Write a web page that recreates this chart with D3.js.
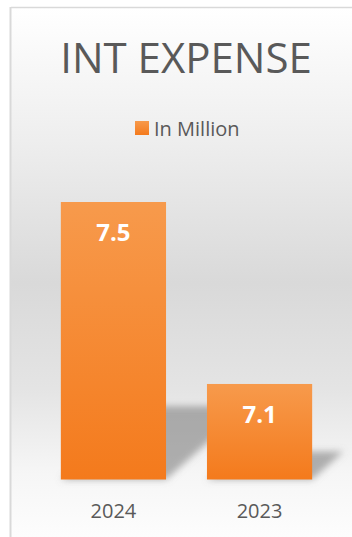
<!DOCTYPE html>
<html>
<head>
<meta charset="utf-8">
<script src="https://cdn.jsdelivr.net/npm/d3@7"></script>
<style>
  html, body { margin: 0; padding: 0; background: #ffffff; }
  svg { display: block; }
</style>
</head>
<body>
<svg id="chart" width="352" height="537"></svg>
<script>
// Interest expense, in million
const categories = ["2024", "2023"];
const values = [7.5, 7.1];
const seriesName = "In Million";
const chartTitle = "INT EXPENSE";

const W = 352, H = 537;
const svg = d3.select("#chart");
const defs = svg.append("defs");

// Panel background: light at top, grey in the middle, near white at the floor
const bg = defs.append("linearGradient")
  .attr("id", "bg").attr("x1", 0).attr("y1", 0).attr("x2", 0).attr("y2", 1);
[[0, "#ffffff"], [0.25, "#eeeeee"], [0.52, "#d9d9d9"], [0.72, "#e4e4e4"], [0.88, "#f6f6f6"], [1, "#fdfdfd"]]
  .forEach(([o, c]) => bg.append("stop").attr("offset", o).attr("stop-color", c));

// Bar fill: lighter orange at top, deeper at the base
const barGrad = defs.append("linearGradient")
  .attr("id", "barGrad").attr("x1", 0).attr("y1", 0).attr("x2", 0).attr("y2", 1);
barGrad.append("stop").attr("offset", 0).attr("stop-color", "#f79a4c");
barGrad.append("stop").attr("offset", 1).attr("stop-color", "#f47a1c");

const blur = defs.append("filter").attr("id", "shadowBlur")
  .attr("x", "-30%").attr("y", "-30%").attr("width", "160%").attr("height", "160%");
blur.append("feGaussianBlur").attr("stdDeviation", 3.5);

// Panel with its thin border on the top and left
svg.append("rect").attr("x", 11).attr("y", 8).attr("width", W - 11).attr("height", H - 8)
  .attr("fill", "url(#bg)");
svg.append("line").attr("x1", 11).attr("x2", W).attr("y1", 7.5).attr("y2", 7.5)
  .attr("stroke", "#d9d9d9").attr("stroke-width", 1.5);
svg.append("line").attr("x1", 10.5).attr("x2", 10.5).attr("y1", 7).attr("y2", H)
  .attr("stroke", "#d9d9d9").attr("stroke-width", 2);

// Title
svg.append("text")
  .attr("x", 186).attr("y", 73)
  .attr("text-anchor", "middle")
  .attr("font-family", "'Open Sans', 'Noto Sans', sans-serif")
  .attr("font-size", 42)
  .attr("fill", "#595959")
  .text(chartTitle);

// Legend
const legend = svg.append("g");
legend.append("rect").attr("x", 135).attr("y", 121).attr("width", 14).attr("height", 14)
  .attr("fill", "url(#barGrad)");
legend.append("text")
  .attr("x", 154).attr("y", 136)
  .attr("font-family", "'Open Sans', 'Noto Sans', sans-serif")
  .attr("font-size", 20)
  .attr("fill", "#595959")
  .text(seriesName);

// Scales
const x = d3.scaleBand().domain(categories).range([17, 356]).paddingInner(0.28).paddingOuter(0.3);
const y = d3.scaleLinear().domain([6.89, 7.5]).range([479.5, 202]);
const base = y.domain()[0];

const bars = categories.map((c, i) => ({ cat: c, v: values[i] }));

// Perspective shadows cast up and to the right of each bar
svg.append("g").attr("filter", "url(#shadowBlur)")
  .selectAll("path").data(bars).join("path")
  .attr("d", d => {
    const x0 = x(d.cat), x1 = x0 + x.bandwidth();
    const b = y(base), h = b - y(d.v);
    const hs = h * 0.25 + 4, dx = hs * 1.12;
    return `M${x0},${b} L${x1},${b} L${x1 + dx},${b - hs} L${x0 + dx},${b - hs} Z`;
  })
  .attr("fill", "#7f7f7f")
  .attr("opacity", 0.6);

// Bars
svg.append("g").selectAll("rect").data(bars).join("rect")
  .attr("x", d => x(d.cat))
  .attr("y", d => y(d.v))
  .attr("width", x.bandwidth())
  .attr("height", d => y(base) - y(d.v))
  .attr("fill", "url(#barGrad)");

// Value labels inside the top of each bar
svg.append("g").selectAll("text").data(bars).join("text")
  .attr("x", d => x(d.cat) + x.bandwidth() / 2)
  .attr("y", d => y(d.v) + 39)
  .attr("text-anchor", "middle")
  .attr("font-family", "'Open Sans', 'Noto Sans', sans-serif")
  .attr("font-weight", "bold")
  .attr("font-size", 24)
  .attr("fill", "#ffffff")
  .text(d => d.v.toFixed(1));

// Category axis (labels only)
const xAxis = svg.append("g")
  .attr("transform", `translate(0,${y(base)})`)
  .call(d3.axisBottom(x).tickSize(0).tickPadding(0));
xAxis.select(".domain").remove();
xAxis.selectAll("text")
  .attr("dy", null)
  .attr("y", 38)
  .attr("font-family", "'Open Sans', 'Noto Sans', sans-serif")
  .attr("font-size", 20)
  .attr("fill", "#595959");
</script>
</body>
</html>
